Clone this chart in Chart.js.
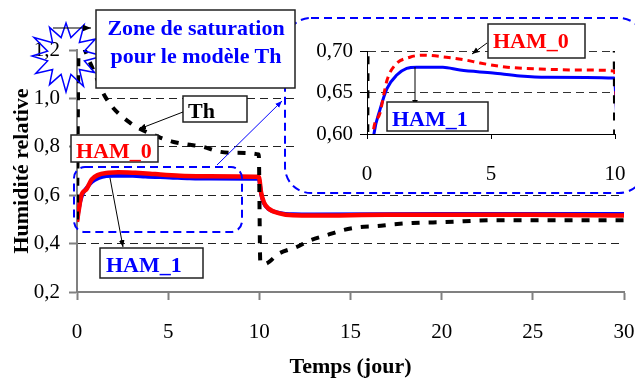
<!DOCTYPE html>
<html>
<head>
<meta charset="utf-8">
<script src="https://cdn.jsdelivr.net/npm/chart.js@4"></script>
<style>
  body { margin: 0; background: #fff; }
  #wrap { position: relative; width: 635px; height: 382px; }
  #inset { position: absolute; left: 297px; top: 20px; }
  #notes { position: absolute; left: 0; top: 0; pointer-events: none; }
  #notes text { font-family: "Liberation Serif", serif; font-weight: bold; font-size: 22px; }
</style>
</head>
<body>
<div id="wrap">
  <canvas id="main" width="635" height="382"></canvas>
  <canvas id="inset" width="335" height="172"></canvas>
  <svg id="notes" width="635" height="382">
    <defs>
      <marker id="ah" viewBox="0 0 10 10" refX="10" refY="5" markerWidth="7" markerHeight="7" orient="auto">
        <path d="M0,1 L10,5 L0,9 z" fill="#000"/>
      </marker>
      <marker id="ahBlue" viewBox="0 0 10 10" refX="10" refY="5" markerWidth="7" markerHeight="7" orient="auto">
        <path d="M0,1 L10,5 L0,9 z" fill="#00f"/>
      </marker>
    </defs>
    <rect x="74" y="167" width="168" height="65" rx="11" fill="none" stroke="#00f" stroke-width="2" stroke-dasharray="8 5"/>
    <rect x="285" y="18" width="360" height="175" rx="26" fill="none" stroke="#00f" stroke-width="2" stroke-dasharray="8 5"/>
    <polygon id="star" fill="none" stroke="#00f" stroke-width="1.5"/>
    <line x1="53" y1="28" x2="91" y2="28" stroke="#000" stroke-width="1.2" marker-end="url(#ah)"/>

    <rect x="96" y="10" width="199" height="78" fill="#fff" stroke="#222" stroke-width="1.5"/>
    <text x="196" y="35" fill="#00f" text-anchor="middle">Zone de saturation</text>
    <text x="196" y="63" fill="#00f" text-anchor="middle">pour le modèle Th</text>

    <rect x="183" y="96" width="64" height="26" fill="#fff" stroke="#222" stroke-width="1.5"/>
    <text x="188" y="118" fill="#000">Th</text>
    <line x1="183" y1="112" x2="139" y2="129" stroke="#000" stroke-width="1" marker-end="url(#ah)"/>

    <rect x="71" y="135" width="87" height="27" fill="#fff" stroke="#222" stroke-width="1.5"/>
    <text x="76" y="158" fill="#f00">HAM_0</text>

    <line x1="110" y1="178" x2="123" y2="247" stroke="#000" stroke-width="1" marker-end="url(#ah)"/>
    <rect x="100" y="248" width="103" height="30" fill="#fff" stroke="#222" stroke-width="1.5"/>
    <text x="106" y="272" fill="#00f">HAM_1</text>

    <line x1="217" y1="165" x2="282" y2="101" stroke="#00f" stroke-width="1" marker-end="url(#ahBlue)"/>

    <line x1="487" y1="43" x2="472" y2="54" stroke="#000" stroke-width="1" marker-end="url(#ah)"/>
    <rect x="488" y="24" width="97" height="34" fill="#fff" stroke="#222" stroke-width="1.5"/>
    <text x="493" y="48" fill="#f00">HAM_0</text>

    <line x1="415" y1="67" x2="415" y2="107" stroke="#000" stroke-width="1" marker-end="url(#ah)"/>
    <rect x="387" y="102" width="101" height="29" fill="#fff" stroke="#222" stroke-width="1.5"/>
    <text x="392" y="126" fill="#00f">HAM_1</text>
  </svg>
</div>
<script>
// temps (jour) / humidité relative
const thTime       = [0, 0.1, 0.7, 1.6, 2.9, 4.5, 5.3, 6.0, 6.9, 7.8, 8.8, 9.97, 10.05, 10.25, 11.1, 12.05, 12.8, 13.7, 14.6, 15.5, 16.4, 17.4, 18.4, 20.2, 23, 30];
const thHumidity   = [0.50, 1.24, 1.15, 1.00, 0.90, 0.84, 0.82, 0.81, 0.80, 0.78, 0.775, 0.768, 0.33, 0.315, 0.36, 0.386, 0.414, 0.435, 0.456, 0.468, 0.472, 0.48, 0.485, 0.489, 0.497, 0.497];
const ham0Time     = [0, 0.1, 0.24, 0.52, 0.81, 1.13, 1.73, 2.26, 3.2, 4.0, 4.56, 5.65, 7.26, 8.87, 9.97, 10.1, 10.25, 10.5, 11.1, 11.85, 13, 17, 24.7, 30];
const ham0Humidity = [0.49, 0.54, 0.60, 0.625, 0.665, 0.683, 0.6925, 0.695, 0.6925, 0.689, 0.6855, 0.6805, 0.678, 0.677, 0.676, 0.61, 0.57, 0.545, 0.525, 0.517, 0.516, 0.519, 0.519, 0.516];
const ham1Time     = [0, 0.1, 0.28, 0.52, 0.81, 1.2, 1.6, 2.0, 3.06, 3.75, 5.08, 6.17, 7.26, 9.97, 10.1, 10.25, 10.5, 11.1, 11.85, 13, 20, 30];
const ham1Humidity = [0.49, 0.545, 0.60, 0.629, 0.655, 0.671, 0.679, 0.6805, 0.6805, 0.677, 0.6735, 0.670, 0.6685, 0.6675, 0.605, 0.567, 0.543, 0.527, 0.521, 0.52, 0.522, 0.522];

const mainYTicks  = [0.2, 1.2, 0.2];   // min, max, pas
const mainXTicks  = [0, 30, 5];
const insetYTicks = [0.60, 0.70, 0.05];
const insetXTicks = [0, 10, 5];

const pts = (xs, ys) => xs.map((x, i) => ({x, y: ys[i]}));
const comma = d => v => v.toFixed(d).replace('.', ',');

Chart.defaults.font.family = '"Liberation Serif", serif';
Chart.defaults.color = '#000';

// starburst de la zone de saturation
(() => {
  const cx = 66, cy = 56, n = 12, p = [];
  const outer = [33, 36, 34, 37, 33, 35, 36, 33, 35, 34, 37, 33];
  for (let i = 0; i < n * 2; i++) {
    const a = -Math.PI / 2 + i * Math.PI / n;
    const r = i % 2 ? 19 : outer[i / 2];
    p.push((cx + r * Math.cos(a)).toFixed(1) + ',' + (cy + r * Math.sin(a)).toFixed(1));
  }
  document.getElementById('star').setAttribute('points', p.join(' '));
})();

const whiteBg = {
  id: 'whiteBg',
  beforeDraw(c) { c.ctx.save(); c.ctx.fillStyle = '#fff'; c.ctx.fillRect(0, 0, c.width, c.height); c.ctx.restore(); }
};

const line = { pointRadius: 0, fill: false, cubicInterpolationMode: 'monotone' };

new Chart(document.getElementById('main'), {
  type: 'line',
  data: { datasets: [
    { ...line, label: 'Th', data: pts(thTime, thHumidity), borderColor: '#000', borderWidth: 4, borderDash: [8, 9] },
    { ...line, label: 'HAM_0', data: pts(ham0Time, ham0Humidity), borderColor: '#f00', borderWidth: 4.5 },
    { ...line, label: 'HAM_1', data: pts(ham1Time, ham1Humidity), borderColor: '#00f', borderWidth: 4 }
  ]},
  options: {
    responsive: false, animation: false, devicePixelRatio: 1,
    layout: { padding: { top: 50, right: 11, left: 0, bottom: 0 } },
    plugins: { legend: { display: false }, tooltip: { enabled: false } },
    scales: {
      x: {
        type: 'linear', min: mainXTicks[0], max: mainXTicks[1],
        ticks: { stepSize: mainXTicks[2], font: { size: 21 }, padding: 20 },
        grid: { drawOnChartArea: false, tickLength: 8, tickColor: '#808080', tickWidth: 2 },
        border: { color: '#808080', width: 2 },
        title: { display: true, text: 'Temps (jour)', font: { size: 22, weight: 'bold' }, padding: { top: 0, bottom: 1 } },
        afterFit: s => { s.height = 90; s.paddingLeft = 0; s.paddingRight = 0; }
      },
      y: {
        min: mainYTicks[0], max: mainYTicks[1],
        ticks: { stepSize: mainYTicks[2], font: { size: 21 }, padding: 9, callback: comma(1) },
        grid: {
          color: c => (c.tick && (c.tick.value < 0.25 || c.tick.value > 1.15)) ? 'rgba(0,0,0,0)' : '#222',
          lineWidth: 1, tickLength: 8, tickColor: '#808080', tickWidth: 2
        },
        border: { color: '#808080', width: 2, dash: [8, 5] },
        title: { display: true, text: 'Humidité relative', font: { size: 22, weight: 'bold' }, padding: { top: 9, bottom: 0 } },
        afterFit: s => { s.width = 77; }
      }
    }
  }
});

new Chart(document.getElementById('inset'), {
  type: 'line',
  data: { datasets: [
    { ...line, label: 'Th', data: pts(thTime, thHumidity), borderColor: '#000', borderWidth: 4, borderDash: [8, 9] },
    { ...line, label: 'HAM_0', data: pts(ham0Time, ham0Humidity), borderColor: '#f00', borderWidth: 3, borderDash: [7, 5] },
    { ...line, label: 'HAM_1', data: pts(ham1Time, ham1Humidity), borderColor: '#00f', borderWidth: 3 }
  ]},
  options: {
    responsive: false, animation: false, devicePixelRatio: 1,
    layout: { padding: { top: 31, right: 17, left: 0, bottom: 0 } },
    plugins: { legend: { display: false }, tooltip: { enabled: false } },
    scales: {
      x: {
        type: 'linear', min: insetXTicks[0], max: insetXTicks[1],
        ticks: { stepSize: insetXTicks[2], font: { size: 21 }, padding: 23 },
        grid: { drawOnChartArea: false, tickLength: 5, tickColor: '#000', tickWidth: 1 },
        border: { color: '#000', width: 1 },
        afterFit: s => { s.height = 58; s.paddingLeft = 0; s.paddingRight = 0; }
      },
      y: {
        min: insetYTicks[0], max: insetYTicks[1],
        ticks: { stepSize: insetYTicks[2], font: { size: 21 }, padding: 7, callback: comma(2) },
        grid: {
          color: c => (c.tick && c.tick.value < 0.62) ? 'rgba(0,0,0,0)' : '#333',
          lineWidth: 1, tickLength: 7, tickColor: '#000', tickWidth: 1
        },
        border: { color: '#000', width: 1, dash: [8, 5] },
        afterFit: s => { s.width = 70; s.paddingTop = 0; s.paddingBottom = 0; }
      }
    }
  },
  plugins: [whiteBg]
});
</script>
</body>
</html>
